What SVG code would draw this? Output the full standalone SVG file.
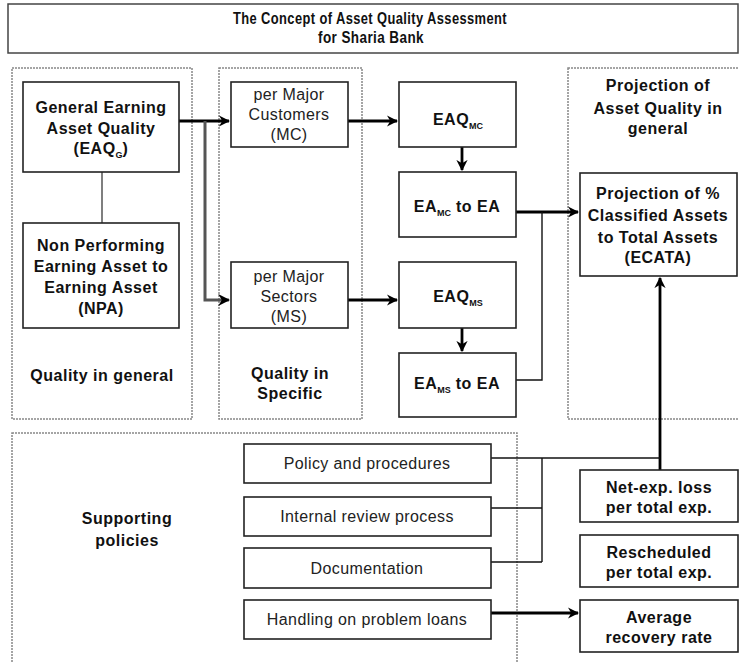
<svg xmlns="http://www.w3.org/2000/svg" width="739" height="663" viewBox="0 0 739 663">
<style>
text{font-family:"Liberation Sans",Arial,sans-serif;text-anchor:middle;fill:#111}
.b{font-weight:bold;font-size:16px;letter-spacing:0.5px}
.r{font-size:16px;letter-spacing:0.4px;fill:#222}
.sub{font-size:9px;letter-spacing:0}
.box{fill:#fff;stroke:#222;stroke-width:1.6}
.reg{fill:none;stroke:#888;stroke-width:1.5;stroke-dasharray:2 1}
.thk{fill:none;stroke:#000;stroke-width:2.8}
.thn{fill:none;stroke:#111;stroke-width:1.4}
.gry{fill:none;stroke:#555;stroke-width:3}
</style>
<defs>
<marker id="ah" viewBox="0 0 10 10" refX="9" refY="5" markerWidth="4" markerHeight="4" orient="auto" markerUnits="strokeWidth">
<path d="M0,0 L10,5 L0,10 L3,5 Z" fill="#000"/>
</marker>
</defs>
<rect width="739" height="663" fill="#fff"/>
<g id="title">
<rect x="8" y="4" width="730" height="49" fill="#fff" stroke="#444" stroke-width="1.5"/>
<text x="370" y="24" class="b" textLength="274" lengthAdjust="spacingAndGlyphs">The Concept of Asset Quality Assessment</text>
<text x="371" y="43" class="b" textLength="106" lengthAdjust="spacingAndGlyphs">for Sharia Bank</text>
</g>
<g id="regions">
<rect class="reg" x="12" y="68" width="180" height="351"/>
<rect class="reg" x="219" y="68" width="143" height="351"/>
<rect class="reg" x="568" y="68" width="172" height="351"/>
<rect class="reg" x="12" y="433" width="505" height="232"/>
<text class="b" x="102" y="381">Quality in general</text>
<text class="b" x="290" y="379">Quality in</text>
<text class="b" x="290" y="399">Specific</text>
<text class="b" x="658" y="91">Projection of</text>
<text class="b" x="658" y="114">Asset Quality in</text>
<text class="b" x="658" y="134">general</text>
<text class="b" x="127" y="524">Supporting</text>
<text class="b" x="127" y="546">policies</text>
</g>
<g id="connectors">
<line class="thk" x1="179" y1="121" x2="229" y2="121" marker-end="url(#ah)"/>
<path class="gry" d="M205,121 V300 H229" marker-end="url(#ah)"/>
<line x1="102" y1="172" x2="102" y2="223" stroke="#555" stroke-width="1.5"/>
<line class="thk" x1="348" y1="121" x2="397" y2="121" marker-end="url(#ah)"/>
<line class="thk" x1="348" y1="300" x2="397" y2="300" marker-end="url(#ah)"/>
<line class="thk" x1="462" y1="147" x2="462" y2="170" marker-end="url(#ah)"/>
<line class="thk" x1="462" y1="328" x2="462" y2="351" marker-end="url(#ah)"/>
<line class="thk" x1="516" y1="212" x2="578" y2="212" marker-end="url(#ah)"/>
<path class="thn" d="M516,380 H542 V212"/>
<line class="thk" x1="660" y1="470" x2="660" y2="278" marker-end="url(#ah)"/>
<path class="thn" d="M491,458 H660"/>
<path class="thn" d="M542,458 V562 M491,508 H542 M491,562 H542"/>
<line class="thk" x1="491" y1="613" x2="578" y2="613" marker-end="url(#ah)"/>
</g>
<g id="n_eaqg">
<rect class="box" x="23" y="82" width="156" height="90"/>
<text class="b" x="101" y="113">General Earning</text>
<text class="b" x="101" y="134">Asset Quality</text>
<text class="b" x="101" y="154">(EAQ<tspan class="sub" dy="4">G</tspan><tspan dy="-4">)</tspan></text>
</g>
<g id="n_npa">
<rect class="box" x="23" y="223" width="156" height="105"/>
<text class="b" x="101" y="251">Non Performing</text>
<text class="b" x="101" y="272">Earning Asset to</text>
<text class="b" x="101" y="293">Earning Asset</text>
<text class="b" x="101" y="314">(NPA)</text>
</g>
<g id="n_mc">
<rect class="box" x="231" y="82" width="117" height="65"/>
<text class="r" x="289" y="100">per Major</text>
<text class="r" x="289" y="120">Customers</text>
<text class="r" x="289" y="140">(MC)</text>
</g>
<g id="n_ms">
<rect class="box" x="231" y="262" width="117" height="66"/>
<text class="r" x="289" y="282">per Major</text>
<text class="r" x="289" y="302">Sectors</text>
<text class="r" x="289" y="322">(MS)</text>
</g>
<g id="n_eaqmc">
<rect class="box" x="399" y="82" width="117" height="65"/>
<text class="b" x="458" y="125">EAQ<tspan class="sub" dy="4">MC</tspan></text>
</g>
<g id="n_eamc">
<rect class="box" x="399" y="172" width="117" height="65"/>
<text class="b" x="457" y="212">EA<tspan class="sub" dy="4">MC</tspan><tspan dy="-4"> to EA</tspan></text>
</g>
<g id="n_eaqms">
<rect class="box" x="399" y="262" width="117" height="66"/>
<text class="b" x="458" y="302">EAQ<tspan class="sub" dy="4">MS</tspan></text>
</g>
<g id="n_eams">
<rect class="box" x="399" y="353" width="117" height="64"/>
<text class="b" x="457" y="389">EA<tspan class="sub" dy="4">MS</tspan><tspan dy="-4"> to EA</tspan></text>
</g>
<g id="n_ecata">
<rect class="box" x="580" y="173" width="157" height="103"/>
<text class="b" x="658" y="199">Projection of %</text>
<text class="b" x="658" y="221">Classified Assets</text>
<text class="b" x="658" y="243">to Total Assets</text>
<text class="b" x="658" y="263">(ECATA)</text>
</g>
<g id="n_pol">
<rect class="box" x="244" y="444" width="247" height="39"/>
<text class="r" x="367" y="469">Policy and procedures</text>
</g>
<g id="n_irp">
<rect class="box" x="244" y="497" width="247" height="39"/>
<text class="r" x="367" y="522">Internal review process</text>
</g>
<g id="n_doc">
<rect class="box" x="244" y="548" width="247" height="40"/>
<text class="r" x="367" y="574">Documentation</text>
</g>
<g id="n_hand">
<rect class="box" x="244" y="600" width="247" height="39"/>
<text class="r" x="367" y="625">Handling on problem loans</text>
</g>
<g id="n_net">
<rect class="box" x="580" y="470" width="158" height="52"/>
<text class="b" x="659" y="493">Net-exp. loss</text>
<text class="b" x="659" y="513">per total exp.</text>
</g>
<g id="n_res">
<rect class="box" x="580" y="535" width="158" height="52"/>
<text class="b" x="659" y="558">Rescheduled</text>
<text class="b" x="659" y="578">per total exp.</text>
</g>
<g id="n_avg">
<rect class="box" x="580" y="600" width="158" height="52"/>
<text class="b" x="659" y="623">Average</text>
<text class="b" x="659" y="643">recovery rate</text>
</g>
</svg>
